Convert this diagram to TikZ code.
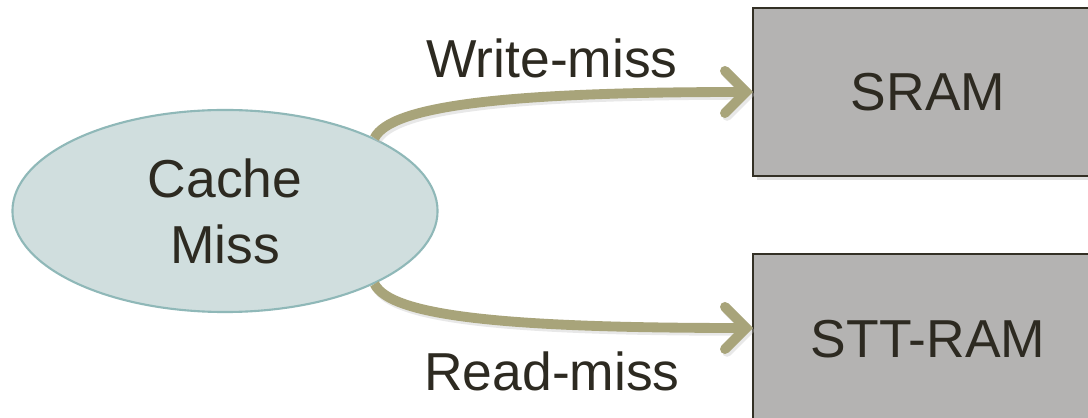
\documentclass[tikz,border=0pt]{standalone}
\usepackage{fontspec}
\setmainfont{Liberation Sans}
\usetikzlibrary{arrows.meta,positioning,shapes.geometric}
\definecolor{textcol}{HTML}{2D2A21}
\definecolor{missfill}{HTML}{D0DEDE}
\definecolor{missline}{HTML}{8FB8B8}
\definecolor{ramfill}{HTML}{B4B3B2}
\definecolor{ramline}{HTML}{333025}
\definecolor{arrowcol}{HTML}{A8A47A}
\tikzset{
  bigtext/.style={font=\fontsize{38}{47}\selectfont, text=textcol},
  missnode/.style={ellipse, draw=missline, fill=missfill, line width=1.5pt,
    minimum width=10.625cm, minimum height=5.05cm, align=center, bigtext},
  ramnode/.style={rectangle, draw=ramline, fill=ramfill, line width=1.5pt,
    minimum width=8.75cm, minimum height=4.2cm, bigtext},
  missarrow/.style={draw=arrowcol, line width=7pt,
    -{Straight Barb[length=15pt, width=30pt, line cap=round]}},
  shadowarrow/.style={draw=black!25, line width=7pt, opacity=0.35,
    -{Straight Barb[length=15pt, width=30pt, line cap=round]}}
}
\begin{document}
\begin{tikzpicture}[x=0.025cm, y=-0.025cm]
	\useasboundingbox (0,0) rectangle (1088,418);
	\fill[white] (0,0) rectangle (1088,418);
	% memories
	\fill[black!30, opacity=0.4] (757,12) rectangle (1107,180);
	\fill[black!30, opacity=0.4] (757,258) rectangle (1107,428);
	\node[ramnode] (sram) at (928,92) {SRAM};
	\node[ramnode, minimum height=4.25cm] (stt) at (928,339) {STT-RAM};
	% cache miss
	\node[missnode] (miss) at (225,211) {Cache\\Miss};
	% arrows
	\coordinate (wend) at (753,92);
	\coordinate (rend) at (753,328);
	\begin{scope}[transform canvas={xshift=1.5pt, yshift=-2pt}]
	\draw[shadowarrow] (miss.26) .. controls +(16,-32) and +(-250,0) .. (wend);
	\draw[shadowarrow] (miss.-26) .. controls +(16,32) and +(-250,0) .. (rend);
	\end{scope}
	\draw[missarrow] (miss.26) .. controls +(16,-32) and +(-250,0) .. (wend);
	\draw[missarrow] (miss.-26) .. controls +(16,32) and +(-250,0) .. (rend);
	% labels
	\node[bigtext, anchor=base] (wlabel) at (552,78) {Write-miss};
	\node[bigtext, anchor=base] (rlabel) at (552,391) {Read-miss};
\end{tikzpicture}
\end{document}
